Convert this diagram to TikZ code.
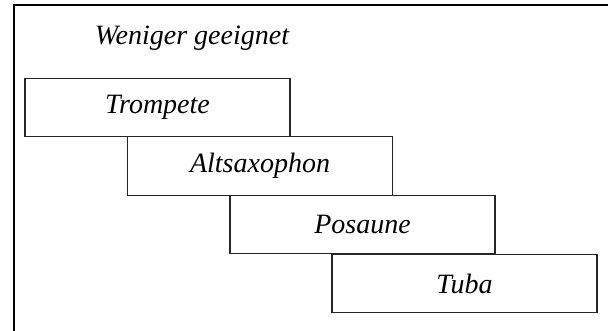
\documentclass[tikz,border=0pt]{standalone}
\usepackage{fontspec}
\setmainfont{Liberation Serif}
\begin{document}
\begin{tikzpicture}[x=0.75pt,y=-0.75pt]
\tikzset{
  instr/.style={draw=black!85, line width=0.8pt, minimum width=198.75pt, minimum height=44.1pt, inner sep=0pt, font=\fontsize{21}{24}\selectfont\itshape},
  heading/.style={font=\fontsize{21}{24}\selectfont\itshape, inner sep=0pt, anchor=base}
}
\useasboundingbox (0,0) rectangle (608,331);
\begin{scope}
\clip (0,0) rectangle (608,331);
\draw[line width=1.2pt, black] (14,5) rectangle (610,345);
\end{scope}
\node[heading] (title) at (192,45) {Weniger geeignet};
\node[instr] (trompete) at (157.5,107.5) {Trompete};
\node[instr] (alt) at (260,166) {Altsaxophon};
\node[instr] (posaune) at (362.5,224.5) {Posaune};
\node[instr] (tuba) at (464.5,283.5) {Tuba};
\end{tikzpicture}
\end{document}
